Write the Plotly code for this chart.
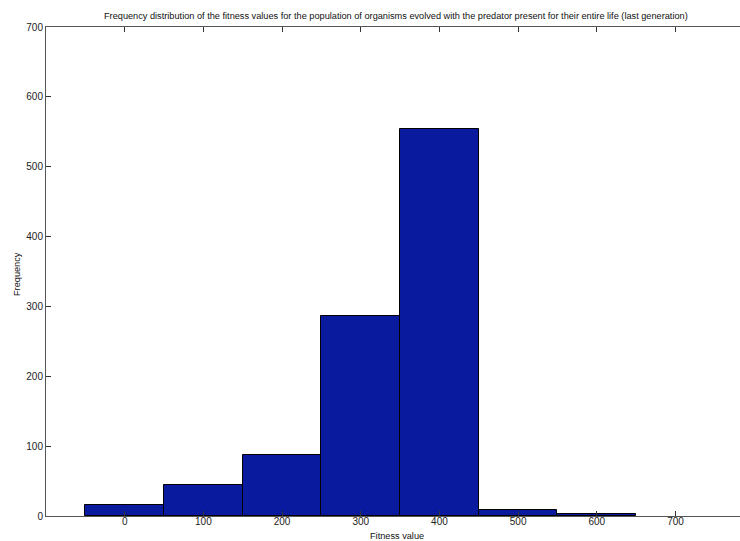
import plotly.graph_objects as go

# Histogram bins (centres, width 100) and their counts
bin_centers = [0, 100, 200, 300, 400, 500, 600, 700]
counts = [16, 44, 88, 287, 554, 9, 3, 0]
bin_width = 100

x_ticks = [0, 100, 200, 300, 400, 500, 600, 700]
y_ticks = [0, 100, 200, 300, 400, 500, 600, 700]

title_text = ("Frequency distribution of the fitness values for the population of organisms "
              "evolved with the predator present for their entire life (last generation)")

tick_font = dict(family="Liberation Sans, Arial, sans-serif", size=10, color="#222222")
label_font = dict(family="Liberation Sans, Arial, sans-serif", size=9.2, color="#111111")

# empty bins are not drawn
bars = [(c, n) for c, n in zip(bin_centers, counts) if n > 0]

fig = go.Figure(
    go.Bar(
        x=[c for c, _ in bars],
        y=[n for _, n in bars],
        width=[bin_width] * len(bars),
        marker=dict(color="#0a1a9e", line=dict(color="#000000", width=1)),
        hoverinfo="x+y",
    )
)

fig.update_layout(
    width=740,
    height=541,
    margin=dict(l=46, r=0, t=27, b=25),
    paper_bgcolor="white",
    plot_bgcolor="white",
    showlegend=False,
    font=tick_font,
    bargap=0,
)

fig.update_xaxes(
    range=[-100, 782],
    tickvals=x_ticks,
    ticktext=[str(v) for v in x_ticks],
    ticks="inside",
    ticklen=5,
    tickcolor="#333333",
    showline=True,
    linecolor="#555555",
    linewidth=1,
    mirror="ticks",
    showgrid=False,
    zeroline=False,
    tickfont=tick_font,
    ticklabelstandoff=-4,
)
fig.update_yaxes(
    range=[0, 700],
    tickvals=y_ticks,
    ticktext=[str(v) for v in y_ticks],
    ticks="inside",
    ticklen=5,
    tickcolor="#333333",
    showline=True,
    linecolor="#555555",
    linewidth=1,
    showgrid=False,
    zeroline=False,
    tickfont=tick_font,
)

# Title, axis labels
fig.add_annotation(text=title_text, xref="paper", yref="paper", x=(396 - 46) / 694, y=1,
                   yshift=4, yanchor="bottom", showarrow=False, font=label_font)
fig.add_annotation(text="Fitness value", xref="paper", yref="paper", x=(397 - 46) / 694, y=0,
                   yshift=-13, yanchor="top", showarrow=False, font=label_font)
fig.add_annotation(text="Frequency", xref="paper", yref="paper", x=0, y=(516 - 274) / 489,
                   xshift=-29, xanchor="center", yanchor="middle", textangle=-90,
                   showarrow=False, font=label_font)

fig.write_html("out.html")
